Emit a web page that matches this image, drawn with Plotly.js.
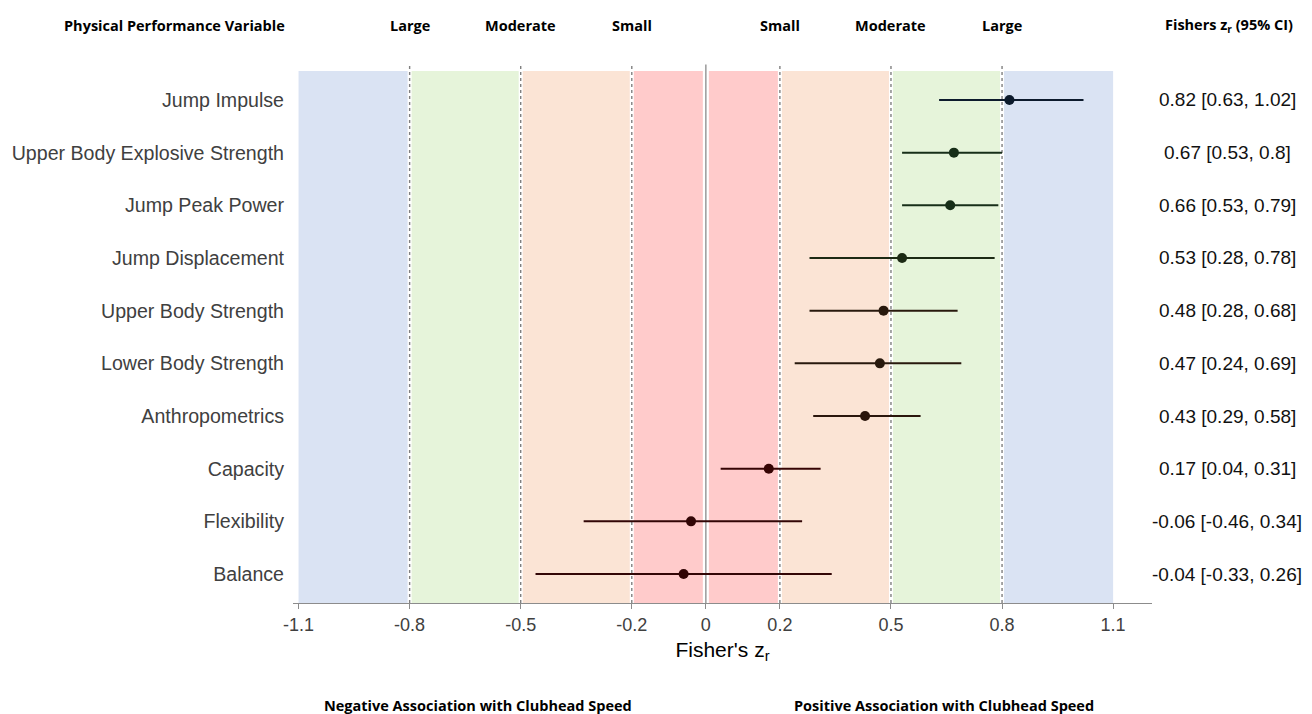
<!DOCTYPE html>
<html>
<head>
<meta charset="utf-8">
<script src="https://cdn.plot.ly/plotly-3.0.1.min.js"></script>
<style>html,body{margin:0;padding:0;background:#fff;}#chart{width:1312px;height:714px;}</style>
</head>
<body>
<div id="chart"></div>
<script>
// ---- data ----
var variables = ["Jump Impulse", "Upper Body Explosive Strength", "Jump Peak Power", "Jump Displacement",
  "Upper Body Strength", "Lower Body Strength", "Anthropometrics", "Capacity", "Flexibility", "Balance"];
var zValues = [0.82, 0.67, 0.66, 0.53, 0.48, 0.47, 0.43, 0.17, -0.04, -0.06];
var ciLower = [0.63, 0.53, 0.53, 0.28, 0.28, 0.24, 0.29, 0.04, -0.33, -0.46];
var ciUpper = [1.02, 0.80, 0.79, 0.78, 0.68, 0.69, 0.58, 0.31, 0.26, 0.34];
var ciText = ["0.82 [0.63, 1.02]", "0.67 [0.53, 0.8]", "0.66 [0.53, 0.79]", "0.53 [0.28, 0.78]",
  "0.48 [0.28, 0.68]", "0.47 [0.24, 0.69]", "0.43 [0.29, 0.58]", "0.17 [0.04, 0.31]",
  "-0.06 [-0.46, 0.34]", "-0.04 [-0.33, 0.26]"];
var thresholds = [-0.8, -0.5, -0.2, 0.2, 0.5, 0.8];
var thresholdLabels = ["Large", "Moderate", "Small", "Small", "Moderate", "Large"];
var bandEdges = [-1.1, -0.8, -0.5, -0.2, 0.2, 0.5, 0.8, 1.1];
var tickVals = [-1.1, -0.8, -0.5, -0.2, 0, 0.2, 0.5, 0.8, 1.1];
var tickLabels = ["-1.1", "-0.8", "-0.5", "-0.2", "0", "0.2", "0.5", "0.8", "1.1"];

// ---- styles ----
var bandColors = ["#dae3f3", "#e6f4da", "#fbe4d5", "#ffcbcb", "#fbe4d5", "#e6f4da", "#dae3f3"];
var pointColors = ["#0c1a2c", "#172e18", "#172e18", "#1c2a14", "#28190d", "#28190d", "#2a160c", "#360404", "#320606", "#320606"];
var FONT = "Liberation Sans, Arial, sans-serif";
var HFONT = "Open Sans, sans-serif";
var HSIZE = 14.5;

var traces = variables.map(function (v, i) {
  return {
    type: "scatter", mode: "markers",
    x: [zValues[i]], y: [v],
    marker: {size: 10, color: pointColors[i]},
    error_x: {type: "data", symmetric: false,
      array: [ciUpper[i] - zValues[i]], arrayminus: [zValues[i] - ciLower[i]],
      thickness: 2, width: 0, color: pointColors[i]},
    showlegend: false, hoverinfo: "x+y"
  };
});

var shapes = [];
for (var b = 0; b < bandEdges.length - 1; b++) {
  shapes.push({type: "rect", layer: "below", xref: "x", yref: "paper",
    x0: bandEdges[b], x1: bandEdges[b + 1], y0: 0, y1: 1,
    fillcolor: bandColors[b], line: {width: 0}});
}
thresholds.forEach(function (t) {
  shapes.push({type: "line", layer: "below", xref: "x", yref: "paper", x0: t, x1: t, y0: 0, y1: 1.0,
    line: {color: "#ffffff", width: 4}});
  shapes.push({type: "line", layer: "below", xref: "x", yref: "paper", x0: t, x1: t, y0: 0, y1: 1.012,
    line: {color: "#808080", width: 1.4, dash: "dot"}});
});
shapes.push({type: "line", layer: "below", xref: "x", yref: "paper", x0: 0, x1: 0, y0: 0, y1: 1.0,
  line: {color: "#ffffff", width: 6}});
shapes.push({type: "line", layer: "below", xref: "x", yref: "paper", x0: 0, x1: 0, y0: 0, y1: 1.012,
  line: {color: "#9a9a9a", width: 1.5}});

var annotations = [];
function header(xref, x, y, text) {
  annotations.push({xref: xref, yref: "paper", x: x, y: y, text: text,
    showarrow: false, xanchor: "center", yanchor: "middle",
    font: {family: HFONT, size: HSIZE, color: "#000", weight: "bold"}});
}
thresholds.forEach(function (t, i) { header("x", t, 1.086, thresholdLabels[i]); });
header("paper", (174 - 293) / 859, 1.086, "Physical Performance Variable");
header("paper", (1229 - 293) / 859, 1.086, "Fishers z<sub>r</sub> (95% CI)");
header("paper", (478 - 293) / 859, -0.192, "Negative Association with Clubhead Speed");
header("paper", (944 - 293) / 859, -0.192, "Positive Association with Clubhead Speed");
variables.forEach(function (v, i) {
  annotations.push({xref: "paper", yref: "y", x: (1227 - 293) / 859, y: v, text: ciText[i],
    showarrow: false, xanchor: "center", yanchor: "middle",
    font: {family: FONT, size: 19, color: "#111"}});
});

var layout = {
  width: 1312, height: 714,
  margin: {l: 293, r: 160, t: 71, b: 111},
  paper_bgcolor: "#ffffff", plot_bgcolor: "#ffffff",
  showlegend: false,
  xaxis: {
    range: [-1.115, 1.205], tickmode: "array", tickvals: tickVals, ticktext: tickLabels,
    showgrid: false, zeroline: false, showline: true, linecolor: "#8c8c8c", linewidth: 1.3,
    ticks: "outside", ticklen: 5, tickcolor: "#8c8c8c",
    tickfont: {family: FONT, size: 18, color: "#404040"},
    title: {text: "Fisher's z<sub>r</sub>", font: {family: FONT, size: 21, color: "#000"}, standoff: 8}
  },
  yaxis: {
    type: "category", categoryorder: "array", categoryarray: variables,
    range: [9.55, -0.55], showgrid: false, zeroline: false, showline: false, ticks: "",
    tickfont: {family: FONT, size: 19.6, color: "#404040"}, ticklabelstandoff: 8
  },
  shapes: shapes,
  annotations: annotations
};

Plotly.newPlot("chart", traces, layout, {displayModeBar: false, staticPlot: true});
</script>
</body>
</html>
